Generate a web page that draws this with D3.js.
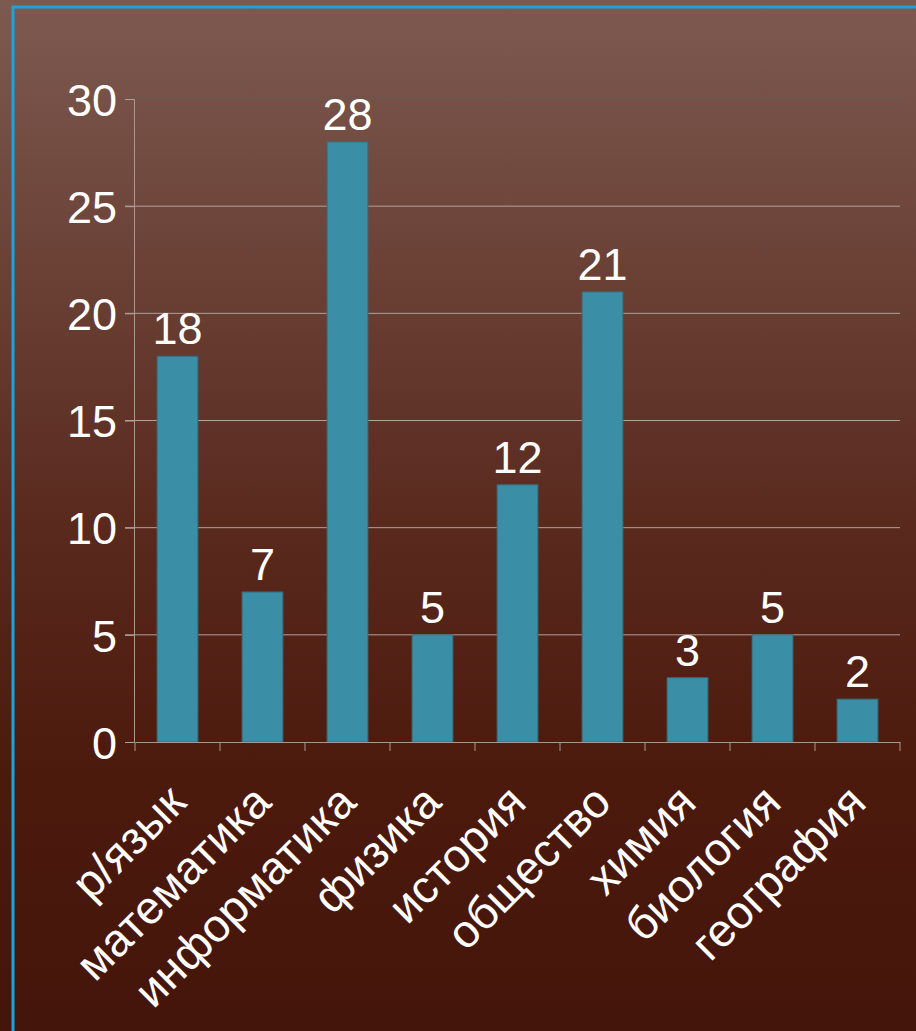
<!DOCTYPE html>
<html><head><meta charset="utf-8">
<script src="https://cdn.jsdelivr.net/npm/d3@7"></script>
<style>html,body{margin:0;padding:0;background:#44160b;overflow:hidden}</style>
</head><body>
<script>
const categories = ["р/язык","математика","информатика","физика","история","общество","химия","биология","география"];
const values = [18,7,28,5,12,21,3,5,2];
const yTicks = [0,5,10,15,20,25,30];

const W = 916, H = 1031;
const svg = d3.select("body").append("svg").attr("width", W).attr("height", H);
const defs = svg.append("defs");
const g = defs.append("linearGradient").attr("id","bg").attr("x1",0).attr("y1",0).attr("x2",0).attr("y2",1);
g.append("stop").attr("offset","0%").attr("stop-color","#7d5a50");
g.append("stop").attr("offset","50%").attr("stop-color","#5a2a1e");
g.append("stop").attr("offset","75%").attr("stop-color","#4c1a0d");
g.append("stop").attr("offset","100%").attr("stop-color","#44150a");
svg.append("rect").attr("width",W).attr("height",H).attr("fill","url(#bg)");
// blue frame
svg.append("rect").attr("x",13).attr("y",7).attr("width",W+20).attr("height",H+20)
  .attr("fill","none").attr("stroke","#1ba3dc").attr("stroke-width",3);

const x = d3.scaleBand().domain(categories).range([135, 900]).paddingInner(0.52).paddingOuter(0.26);
const xb = d3.scaleBand().domain(categories).range([135, 900]);
const y = d3.scaleLinear().domain([0,30]).range([742, 99]);
const font = "'Liberation Sans', Arial, sans-serif";

// gridlines
svg.append("g").selectAll("line").data(yTicks.filter(d=>d>0)).join("line")
  .attr("x1",125).attr("x2",900).attr("y1",d=>y(d)).attr("y2",d=>y(d))
  .attr("stroke",d=>d===30?"#6b5751":"#b0a29c").attr("stroke-width",d=>d===30?2:1);

// y axis
const ya = svg.append("g").attr("transform","translate(134,0)")
  .call(d3.axisLeft(y).tickValues(yTicks).tickSize(9).tickPadding(8));
ya.select(".domain").attr("stroke","#a89890");
ya.selectAll(".tick line").attr("stroke","#b0a29c");
ya.selectAll("text").attr("fill","#ffffff").style("font-family",font).style("font-size","45px")
  .attr("dy","0.36em");

// bars
svg.append("g").selectAll("rect").data(values).join("rect")
  .attr("x",(d,i)=>x(categories[i])).attr("width",x.bandwidth())
  .attr("y",d=>y(d)).attr("height",d=>y(0)-y(d))
  .attr("fill","#3a8fa7").attr("stroke","#3b6a78").attr("stroke-width",1);

// value labels
svg.append("g").selectAll("text").data(values).join("text")
  .attr("x",(d,i)=>x(categories[i])+x.bandwidth()/2).attr("y",d=>y(d)-12)
  .attr("text-anchor","middle").attr("fill","#ffffff")
  .style("font-family",font).style("font-size","45px").text(d=>d);

// x axis
const xa = svg.append("g").attr("transform","translate(0,742)")
  .call(d3.axisBottom(xb).tickSize(0).tickFormat(""));
xa.select(".domain").attr("stroke","#a89890");
xa.selectAll(".tick").remove();
svg.append("g").selectAll("line").data(d3.range(categories.length+1)).join("line")
  .attr("x1",i=>135+i*xb.step()).attr("x2",i=>135+i*xb.step())
  .attr("y1",742).attr("y2",751).attr("stroke","#a89890");

svg.append("g").selectAll("text").data(categories).join("text")
  .attr("transform",d=>`translate(${xb(d)+xb.bandwidth()/2-12},${782}) rotate(-45)`)
  .attr("text-anchor","end").attr("dy","0.7em").attr("fill","#ffffff")
  .style("font-family",font).style("font-size","46px").text(d=>d);
</script>
</body></html>
